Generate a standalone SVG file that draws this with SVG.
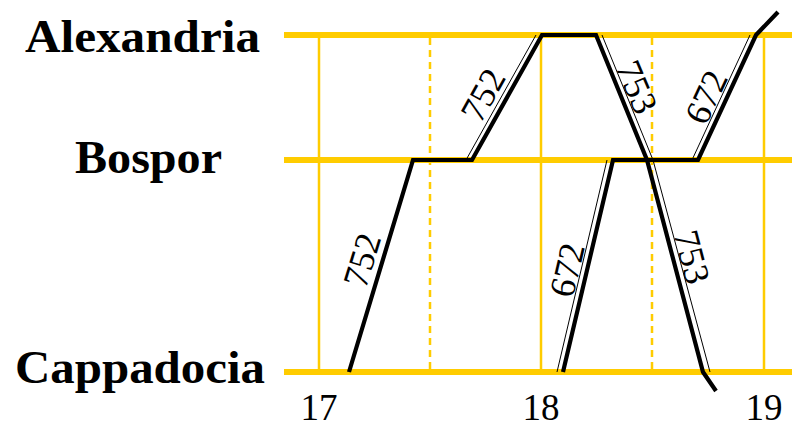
<svg xmlns="http://www.w3.org/2000/svg" width="792" height="427" viewBox="0 0 792 427">
<style>
.grid{stroke:#FFCC00;fill:none}
.h{stroke-width:6}
.v{stroke-width:2.5}
.d{stroke-width:2.5;stroke-dasharray:7 5}
.thick{stroke:#000;stroke-width:4.2;fill:none;stroke-linejoin:miter}
.thin{stroke:#000;stroke-width:1;fill:none}
.st{font-family:"Liberation Serif",serif;font-weight:bold;font-size:46px;fill:#000}
.tk{font-family:"Liberation Serif",serif;font-size:37px;fill:#000;text-anchor:middle}
.lb{font-family:"Liberation Serif",serif;font-size:36px;fill:#000;text-anchor:middle}
</style>
<rect width="792" height="427" fill="#fff"/>
<g id="grid">
<line class="grid v" x1="319" y1="35" x2="319" y2="372"/>
<line class="grid v" x1="541" y1="35" x2="541" y2="372"/>
<line class="grid v" x1="764" y1="35" x2="764" y2="372"/>
<line class="grid d" x1="430" y1="38" x2="430" y2="372"/>
<line class="grid d" x1="652" y1="38" x2="652" y2="372"/>
<line class="grid h" x1="284" y1="35" x2="792" y2="35"/>
<line class="grid h" x1="284" y1="160" x2="792" y2="160"/>
<line class="grid h" x1="284" y1="372" x2="792" y2="372"/>
</g>
<g id="station-alexandria"><text class="st" x="25" y="52" textLength="235" lengthAdjust="spacingAndGlyphs">Alexandria</text></g>
<g id="station-bospor"><text class="st" x="75" y="173" textLength="147" lengthAdjust="spacingAndGlyphs">Bospor</text></g>
<g id="station-cappadocia"><text class="st" x="15" y="383" textLength="250" lengthAdjust="spacingAndGlyphs">Cappadocia</text></g>
<g id="axis">
<text class="tk" x="319" y="420">17</text>
<text class="tk" x="541" y="420">18</text>
<text class="tk" x="764" y="420">19</text>
</g>
<g id="connectors">
<path class="thick" d="M349,372 L413,160 L472,160 L542,35 L596,35 L647,160 L703,372 L716,391"/>
<path class="thick" d="M563,372 L613,160 L698,160 L756,35 L778,12"/>
<line class="thin" x1="466" y1="160" x2="536" y2="35"/>
<polyline class="thin" points="602,35 653,160 710,372"/>
<line class="thin" x1="557" y1="372" x2="607" y2="160"/>
<line class="thin" x1="692" y1="160" x2="750" y2="35"/>
</g>
<g id="labels">
<text class="lb" transform="translate(362,260) rotate(-73)" dy="0.34em">752</text>
<text class="lb" transform="translate(483,95) rotate(-61)" dy="0.34em">752</text>
<text class="lb" transform="translate(637,87) rotate(67)" dy="0.34em">753</text>
<text class="lb" transform="translate(706,97) rotate(-65)" dy="0.34em">672</text>
<text class="lb" transform="translate(567,270) rotate(-77)" dy="0.34em">672</text>
<text class="lb" transform="translate(692,257) rotate(75.5)" dy="0.34em">753</text>
</g>
</svg>
